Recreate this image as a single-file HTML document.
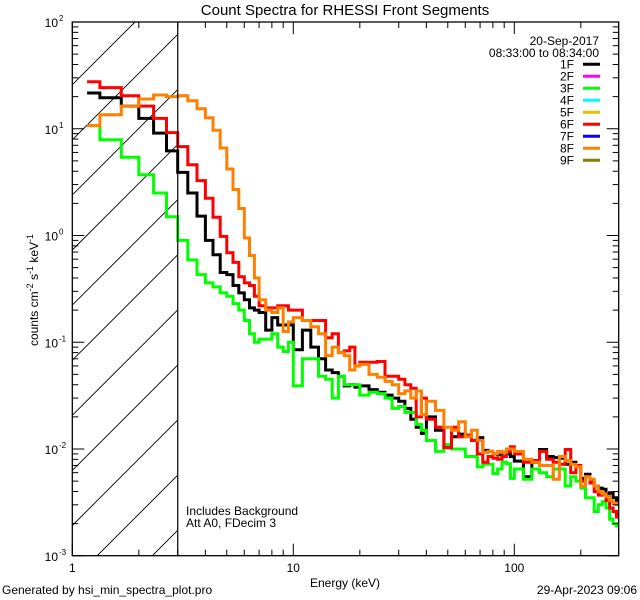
<!DOCTYPE html>
<html><head><meta charset="utf-8">
<style>
html,body{margin:0;padding:0;background:#fff;width:640px;height:600px;overflow:hidden;}
svg{display:block;font-family:"Liberation Sans",sans-serif;}
</style></head>
<body>
<svg id="chart" width="640" height="600" viewBox="0 0 640 600">
  <defs>
    <clipPath id="plotclip"><rect x="72.3" y="22" width="546.4" height="533.7"/></clipPath>
    <clipPath id="hatchclip"><rect x="72.3" y="22" width="105" height="533.7"/></clipPath>
  </defs>
  <text x="345" y="15" font-size="15" text-anchor="middle">Count Spectra for RHESSI Front Segments</text>
  <g id="hatch" clip-path="url(#hatchclip)"></g>
  <g id="series" clip-path="url(#plotclip)"></g>
  <g id="axes"></g>
  <text transform="translate(38,290) rotate(-90)" font-size="12" text-anchor="middle">counts cm<tspan dy="-5" font-size="9">-2</tspan><tspan dy="5"> s</tspan><tspan dy="-5" font-size="9">-1</tspan><tspan dy="5"> keV</tspan><tspan dy="-5" font-size="9">-1</tspan></text>
  <text x="345" y="587" font-size="12" text-anchor="middle">Energy (keV)</text>
  <text x="186" y="515" font-size="12">Includes Background</text>
  <text x="186" y="527" font-size="12">Att A0, FDecim 3</text>
  <text x="2" y="594" font-size="12">Generated by hsi_min_spectra_plot.pro</text>
  <text x="637" y="594" font-size="12" text-anchor="end">29-Apr-2023 09:06</text>
  <text x="599" y="45" font-size="12" text-anchor="end">20-Sep-2017</text>
  <text x="599" y="57" font-size="12" text-anchor="end">08:33:00 to 08:34:00</text>
  <g id="legend"></g>
</svg>
<script>
const NS = "http://www.w3.org/2000/svg";
// ---- data ----
const energyEdges = [1,1.333,1.667,2,2.333,2.667,3,3.333,3.667,4,4.333,4.667,5,5.333,5.667,6,6.333,6.667,7,
  7.5,8,8.5,9,9.5,10,
  11,12,13,14,15,16,17,18,19,20,
  22,24,26,28,30,32,34,36,38,40,
  44,48,52,56,60,64,68,72,76,80,84,88,92,96,100,
  110,120,130,140,150,160,170,180,190,200,210,220,230,240,250,260,270,280,290,300];
const seg1F = [21.6,19.5,16.3,12.5,9.1,6.2,3.9,2.5,1.52,0.90,0.66,0.45,0.43,0.34,0.29,0.25,0.21,0.20,
  0.19,0.13,0.17,0.145,0.145,0.145,
  0.085,0.13,0.09,0.07,0.055,0.052,0.048,0.039,0.04,0.038,
  0.039,0.036,0.034,0.032,0.03,0.028,0.024,0.019,0.016,0.014,
  0.02,0.015,0.0103,0.013,0.0138,0.0135,0.012,0.0128,0.0097,0.0095,0.009,0.0088,0.0085,0.009,0.0085,
  0.0077,0.0055,0.0075,0.0099,0.0085,0.0083,0.0082,0.0072,0.0075,0.0068,0.0053,0.0058,0.005,0.0045,0.0043,0.0042,0.0038,0.0039,0.0035,0.0032];
const seg3F = [10.7,7.9,5.4,3.7,2.5,1.5,0.9,0.59,0.43,0.36,0.33,0.29,0.27,0.23,0.2,0.16,0.12,0.1,
  0.107,0.107,0.12,0.09,0.082,0.1,
  0.039,0.07,0.07,0.048,0.045,0.03,0.048,0.04,0.04,0.04,
  0.032,0.034,0.033,0.03,0.024,0.025,0.022,0.022,0.017,0.015,
  0.012,0.0095,0.011,0.01,0.01,0.0085,0.0085,0.0068,0.0072,0.0072,0.0059,0.0065,0.0075,0.0073,0.0053,
  0.0065,0.0052,0.0065,0.006,0.0055,0.0065,0.0065,0.0045,0.0055,0.005,0.0043,0.0035,0.0035,0.0026,0.003,0.0032,0.0028,0.0022,0.002,0.0019];
const seg6F = [27.6,24.3,20.4,16.3,12.5,9.2,6.8,4.6,3.27,2.23,1.48,0.98,0.69,0.56,0.41,0.36,0.34,0.27,
  0.22,0.21,0.21,0.22,0.22,0.2,
  0.2,0.16,0.16,0.16,0.11,0.12,0.08,0.083,0.09,0.06,
  0.065,0.065,0.066,0.048,0.048,0.045,0.04,0.037,0.02,0.03,
  0.019,0.016,0.0103,0.016,0.013,0.0135,0.012,0.009,0.0075,0.0085,0.0082,0.008,0.0085,0.0095,0.0105,
  0.009,0.0075,0.0078,0.0095,0.008,0.0075,0.0072,0.0099,0.006,0.007,0.005,0.0055,0.0048,0.004,0.0037,0.0038,0.0033,0.0028,0.0026,0.0023];
const seg8F = [10.7,13.5,16.3,19,20.7,20,20.4,18.3,15.4,12.7,9.7,6.6,4.2,2.7,1.79,0.95,0.65,0.40,
  0.25,0.2,0.19,0.21,0.126,0.155,
  0.17,0.16,0.14,0.12,0.075,0.09,0.08,0.075,0.055,0.06,
  0.062,0.05,0.047,0.043,0.04,0.033,0.035,0.03,0.035,0.021,
  0.028,0.023,0.016,0.015,0.018,0.013,0.015,0.012,0.0093,0.0095,0.009,0.0095,0.0093,0.01,0.01,
  0.0095,0.008,0.0075,0.007,0.007,0.0052,0.0085,0.0078,0.0072,0.0068,0.0045,0.0055,0.0052,0.0045,0.004,0.0038,0.0036,0.0033,0.0031,0.003];
const legendLabels = ["1F","2F","3F","4F","5F","6F","7F","8F","9F"];
const legendColors = ["#000000","#ff00ff","#00ff00","#00ffff","#d4c800","#ff0000","#0000ff","#ff8000","#808000"];
const yTickExps = [2,1,0,-1,-2,-3];
const xTickLabels = [1,10,100];

// ---- scales ----
const X0 = 72.3, DEC_X = 221, RIGHT = 618.7;
const Y0 = 22, DEC_Y = 106.75, BOTTOM = 555.7;
function xPx(e){ return X0 + DEC_X*Math.log10(e); }
function yPx(v){ return Y0 + (2 - Math.log10(v))*DEC_Y; }

const svg = document.getElementById('chart');
const axes = document.getElementById('axes');
function mk(tag, attrs, parent){
  const el = document.createElementNS(NS, tag);
  for (const k in attrs) el.setAttribute(k, attrs[k]);
  parent.appendChild(el);
  return el;
}

// hatch (kept within plot bounds)
const hatch = document.getElementById('hatch');
const HX0 = 72.3, HX1 = 177.3;
for (let c = 157; c < 740; c += 55.1) {
  // line x + y = c, clipped to x in [HX0,HX1], y in [Y0,BOTTOM]
  let xa = Math.max(HX0, c - BOTTOM), xb = Math.min(HX1, c - Y0);
  if (xb <= xa) continue;
  const ln = mk('line', {x1: xa, y1: c-xa, x2: xb, y2: c-xb, stroke:'#000','stroke-width':0.9}, hatch);
  
  
}
const cut = mk('line', {x1: xPx(3), y1: Y0, x2: xPx(3), y2: BOTTOM, stroke:'#000','stroke-width':1.2}, axes);



// series
const seriesG = document.getElementById('series');
function drawSeries(vals, color, name){
  let d = '';
  for (let i = 0; i < vals.length; i++) {
    const xa = i === 0 ? xPx((energyEdges[0]+energyEdges[1])/2) : xPx(energyEdges[i]);
    const xb = Math.min(RIGHT, xPx(energyEdges[i+1]));
    const y = yPx(vals[i]);
    d += (i === 0 ? 'M' : 'L') + xa.toFixed(1) + ',' + y.toFixed(1) + 'L' + xb.toFixed(1) + ',' + y.toFixed(1);
  }
  const p = mk('path', {d: d, fill:'none', stroke: color, 'stroke-width': 3, 'stroke-linejoin':'miter'}, seriesG);
  
  
}
drawSeries(seg1F, legendColors[0], 'series-1f');
drawSeries(seg3F, legendColors[2], 'series-3f');
drawSeries(seg6F, legendColors[5], 'series-6f');
drawSeries(seg8F, legendColors[7], 'series-8f');

// axes box
const box = mk('rect', {x: X0, y: Y0, width: RIGHT-X0, height: BOTTOM-Y0, fill:'none', stroke:'#000','stroke-width':1.3}, axes);



// y ticks
for (let e = 2; e >= -3; e--) {
  for (let m = 1; m <= 9; m++) {
    const v = m*Math.pow(10, e);
    if (e === 2 && m > 1) continue;
    const y = yPx(v);
    const len = m === 1 ? 12 : 6;
    const t1 = mk('line', {x1: X0, y1: y, x2: X0+len, y2: y, stroke:'#000','stroke-width':1}, axes);
    
    
    const t2 = mk('line', {x1: RIGHT, y1: y, x2: RIGHT-len, y2: y, stroke:'#000','stroke-width':1}, axes);
    
    
  }
}
yTickExps.forEach(function(e){
  const y = yPx(Math.pow(10, e));
  const t = mk('text', {x: 58, y: y+5, 'font-size': 12, 'text-anchor':'end'}, axes);
  t.textContent = '10';
  const s = mk('tspan', {x: 59, dy: -6, 'font-size': 8, 'text-anchor':'start'}, t);
  s.textContent = String(e);
  
  
});

// x ticks
for (let e = 0; e <= 2; e++) {
  for (let m = 1; m <= 9; m++) {
    const v = m*Math.pow(10, e);
    const x = xPx(v);
    if (x > RIGHT) continue;
    const len = m === 1 ? 12 : 6;
    const b = mk('line', {x1: x, y1: BOTTOM, x2: x, y2: BOTTOM-len, stroke:'#000','stroke-width':1}, axes);
    
    
    const tp = mk('line', {x1: x, y1: Y0, x2: x, y2: Y0+len, stroke:'#000','stroke-width':1}, axes);
    
    
  }
}
xTickLabels.forEach(function(v){
  const t = mk('text', {x: xPx(v), y: 572, 'font-size': 12, 'text-anchor':'middle'}, axes);
  t.textContent = String(v);
  
  
});

// legend
const legend = document.getElementById('legend');
legendLabels.forEach(function(lab, i){
  const y = 64.3 + 12*i;
  const t = mk('text', {x: 574, y: y+4, 'font-size': 12, 'text-anchor':'end'}, legend);
  t.textContent = lab;
  
  
  const l = mk('line', {x1: 583, y1: y, x2: 600, y2: y, stroke: legendColors[i], 'stroke-width': 3}, legend);
  
  
});
</script>
</body></html>
